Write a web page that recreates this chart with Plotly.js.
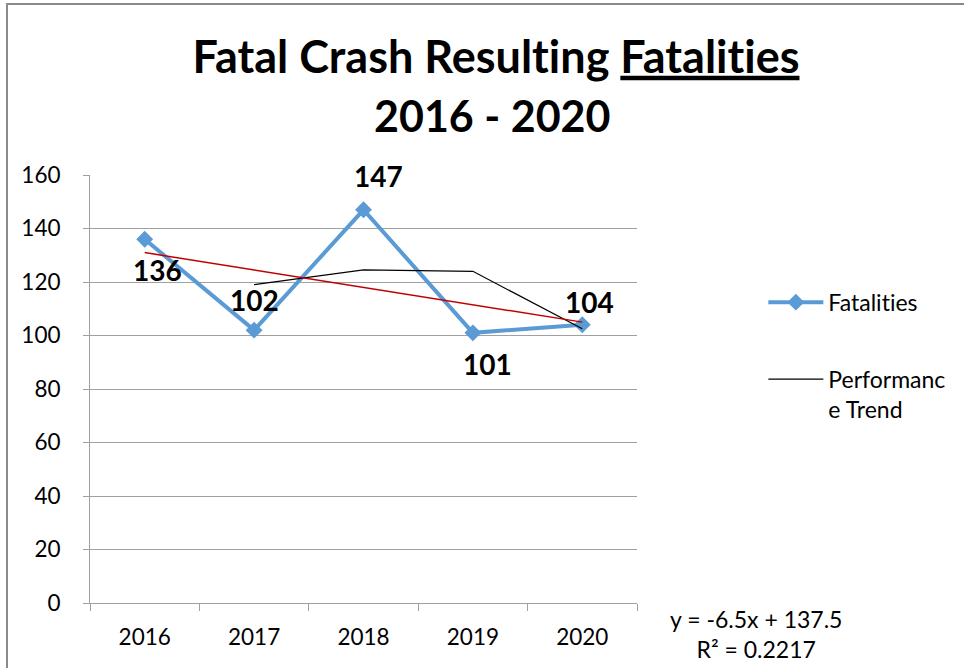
<!DOCTYPE html>
<html>
<head>
<meta charset="utf-8">
<script src="https://cdn.plot.ly/plotly-3.0.1.min.js"></script>
<style>
  html, body { margin: 0; padding: 0; background: #fff; }
  #wrap { position: relative; width: 964px; height: 668px; overflow: hidden; }
  #frame { position: absolute; left: 6px; top: 3px; width: 2000px; height: 2000px;
           border-left: 2px solid #8a8a8a; border-top: 2px solid #8a8a8a; pointer-events: none; }
  #chart { position: absolute; left: 0; top: 0; width: 964px; height: 668px; }
  #chart text { font-variant-ligatures: none; font-feature-settings: "liga" 0, "clig" 0; }
</style>
</head>
<body>
<div id="wrap">
  <div id="chart"></div>
  <div id="frame"></div>
</div>
<script>
const years = ["2016", "2017", "2018", "2019", "2020"];
const fatalities = [136, 102, 147, 101, 104];
const performanceTrend = [null, 119, 124.5, 124, 102.5];
const linearTrend = [131, 124.5, 118, 111.5, 105];
const yTicks = [0, 20, 40, 60, 80, 100, 120, 140, 160];
const labelShifts = [[13, -31], [0, 30], [15, 34], [15, -31], [7, 23]];

const FONT = "Lato, 'Open Sans', sans-serif";

const traces = [
  {
    x: years, y: fatalities, name: "Fatalities", type: "scatter", mode: "lines+markers",
    line: { color: "#5B9BD5", width: 4 },
    marker: { symbol: "diamond", size: 13, color: "#5B9BD5" },
    legendgroup: "a"
  },
  {
    x: years, y: performanceTrend, name: "Performanc<br>e Trend", type: "scatter", mode: "lines",
    line: { color: "#000000", width: 1.2 },
    legendgroup: "b", connectgaps: false
  },
  {
    x: years, y: linearTrend, name: "Linear (Fatalities)", type: "scatter", mode: "lines",
    line: { color: "#C00000", width: 1.5 },
    showlegend: false
  }
];

const annotations = years.map((yr, i) => ({
  x: i, y: fatalities[i], xref: "x", yref: "y",
  text: "<b>" + fatalities[i] + "</b>", showarrow: false,
  xshift: labelShifts[i][0], yshift: labelShifts[i][1],
  font: { family: FONT, size: 28, color: "#000" }
}));

annotations.push({
  xref: "paper", yref: "paper", x: (492 - 90) / 547, y: (603 - 115) / 428,
  xanchor: "center", yanchor: "middle", showarrow: false,
  text: "<b>2016 - 2020</b>", font: { family: FONT, size: 43, color: "#000" }
});
annotations.push({
  xref: "paper", yref: "paper", x: (756 - 90) / 547, y: (603 - 634) / 428,
  xanchor: "center", yanchor: "middle", showarrow: false, align: "center",
  text: "y = -6.5x + 137.5<br>R² = 0.2217", font: { family: FONT, size: 23, color: "#000" }
});

const layout = {
  width: 964, height: 668,
  paper_bgcolor: "rgba(0,0,0,0)", plot_bgcolor: "#fff",
  margin: { l: 90, r: 327, t: 175, b: 65 },
  title: {
    text: "<b>Fatal Crash Resulting <u>Fatalities</u></b>",
    xref: "container", yref: "container", x: 496 / 964, y: 1 - 57 / 668,
    xanchor: "center", yanchor: "middle",
    font: { family: FONT, size: 45, color: "#000" }
  },
  xaxis: {
    type: "category", range: [-0.5, 4.5],
    showgrid: false, showline: true, linecolor: "#a0a0a0", linewidth: 1,
    ticks: "outside", tickson: "boundaries", ticklen: 7, tickcolor: "#a0a0a0",
    tickfont: { family: FONT, size: 22.5, color: "#000" }, ticklabelstandoff: 14,
    zeroline: false, fixedrange: true
  },
  yaxis: {
    range: [0, 160], tickvals: yTicks, ticktext: yTicks.map(String),
    showgrid: true, gridcolor: "#a0a0a0", gridwidth: 1,
    showline: true, linecolor: "#a0a0a0", linewidth: 1,
    ticks: "outside", ticklen: 6, tickcolor: "#a0a0a0",
    tickfont: { family: FONT, size: 22.5, color: "#000" }, ticklabelstandoff: 18,
    zeroline: false, fixedrange: true
  },
  showlegend: true,
  legend: {
    x: 1.231, y: 0.753, xanchor: "left", yanchor: "top",
    traceorder: "grouped", tracegroupgap: 44, itemwidth: 55, valign: "top",
    font: { family: FONT, size: 23, color: "#000" },
    bgcolor: "rgba(0,0,0,0)"
  },
  annotations: annotations
};

Plotly.newPlot("chart", traces, layout, { displayModeBar: false, staticPlot: true });
</script>
</body>
</html>
